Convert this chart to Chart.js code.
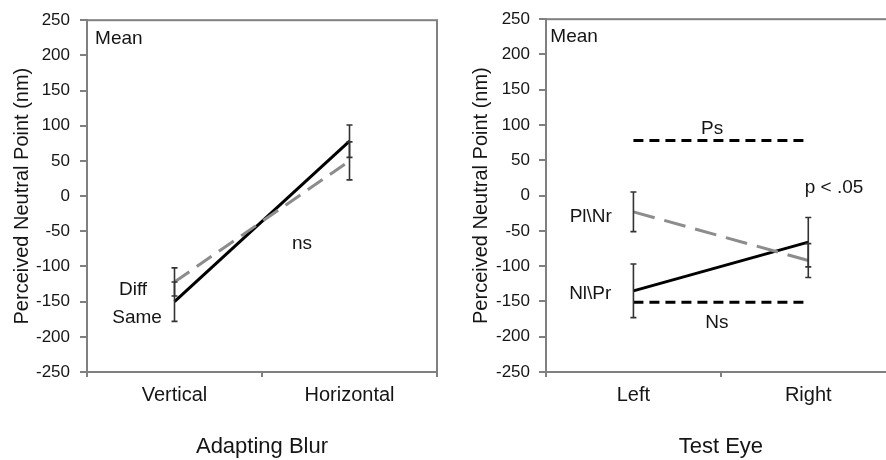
<!DOCTYPE html>
<html>
<head>
<meta charset="utf-8">
<script src="https://cdn.jsdelivr.net/npm/chart.js@4.4.1/dist/chart.umd.min.js"></script>
<style>
  body { margin: 0; background: #fff; overflow: hidden; width: 886px; height: 460px; position: relative; }
  canvas { position: absolute; top: 0; }
  #blur { left: 0; }
  #eye { left: 440px; }
</style>
</head>
<body>
<canvas id="blur" width="440" height="460"></canvas>
<canvas id="eye" width="470" height="460"></canvas>
<script>
// left panel: adapting blur
const blurLabels = ['Vertical', 'Horizontal'];
const blurSame = [-150, 78];
const blurSameErr = [28, 23];
const blurDiff = [-122, 50];
const blurDiffErr = [20, 27];

// right panel: test eye
const eyeLabels = ['Left', 'Right'];
const eyeNlPr = [-135, -66];
const eyeNlPrErr = [38, 35];
const eyePlNr = [-23, -92];
const eyePlNrErr = [28, 24];
const eyePs = [78, 78];
const eyeNs = [-151, -151];

const yMin = -250, yMax = 250, yStep = 50;

// text notes: [text, category position, value, align]
const blurNotes = [
    ['Mean', -0.454, 216, 'left'],
    ['Diff', -0.237, -141, 'center'],
    ['Same', -0.214, -181, 'center'],
    ['ns', 0.729, -75, 'center']
];
const eyeNotes = [
    ['Mean', -0.475, 217, 'left'],
    ['Ps', 0.45, 87, 'center'],
    ['p < .05', 1.147, 4, 'center'],
    ['Pl\\Nr', -0.244, -38, 'center'],
    ['Nl\\Pr', -0.247, -147, 'center'],
    ['Ns', 0.477, -188, 'center']
];

const axisGray = '#808080';
const ink = '#151515';
Chart.defaults.font.family = "'Liberation Sans', Arial, sans-serif";
Chart.defaults.color = ink;

const frame = {
    id: 'frame',
    beforeDatasetsDraw(chart) {
        const { ctx, chartArea: a } = chart;
        ctx.save();
        ctx.strokeStyle = axisGray;
        ctx.lineWidth = 2;
        ctx.strokeRect(a.left, a.top, a.right - a.left, a.bottom - a.top);
        ctx.restore();
    }
};

const errorBars = {
    id: 'errorBars',
    afterDatasetsDraw(chart) {
        const { ctx, scales: { x, y } } = chart;
        ctx.save();
        ctx.strokeStyle = '#333';
        ctx.lineWidth = 1.6;
        chart.data.datasets.forEach(ds => {
            if (!ds.errors) return;
            ds.data.forEach((v, i) => {
                const px = x.getPixelForValue(i);
                const top = y.getPixelForValue(v + ds.errors[i]);
                const bot = y.getPixelForValue(v - ds.errors[i]);
                ctx.beginPath();
                ctx.moveTo(px, top); ctx.lineTo(px, bot);
                ctx.moveTo(px - 3, top); ctx.lineTo(px + 3, top);
                ctx.moveTo(px - 3, bot); ctx.lineTo(px + 3, bot);
                ctx.stroke();
            });
        });
        ctx.restore();
    }
};

const notes = {
    id: 'notes',
    afterDraw(chart, args, opts) {
        const { ctx, scales: { x, y } } = chart;
        ctx.save();
        ctx.fillStyle = ink;
        ctx.font = "19px 'Liberation Sans', Arial, sans-serif";
        ctx.textBaseline = 'alphabetic';
        opts.items.forEach(([text, cx, cy, align]) => {
            ctx.textAlign = align;
            ctx.fillText(text, x.getPixelForValue(cx), y.getPixelForValue(cy));
        });
        ctx.restore();
    }
};

function makeChart(id, labels, datasets, noteItems, xTitle, yWidth, yTickPad, yTitlePad, padRight) {
    return new Chart(document.getElementById(id), {
        type: 'line',
        data: { labels, datasets },
        plugins: [frame, errorBars, notes],
        options: {
            responsive: false,
            animation: false,
            layout: { padding: { top: 17.5, right: padRight, bottom: 0, left: 0 } },
            elements: { point: { radius: 0 }, line: { tension: 0, borderCapStyle: 'butt' } },
            plugins: {
                legend: { display: false },
                tooltip: { enabled: false },
                notes: { items: noteItems }
            },
            scales: {
                x: {
                    type: 'category',
                    offset: true,
                    grid: { display: true, offset: true, drawOnChartArea: false, tickLength: 5, color: axisGray, lineWidth: 2 },
                    border: { color: axisGray, width: 2 },
                    ticks: { font: { size: 20 }, padding: 6, color: ink },
                    title: { display: true, text: xTitle, font: { size: 22 }, padding: { top: 0, bottom: 0 }, color: ink },
                    afterFit(s) { s.height = 88; }
                },
                y: {
                    min: yMin,
                    max: yMax,
                    ticks: { stepSize: yStep, font: { size: 17 }, padding: yTickPad, color: ink },
                    grid: { display: true, drawOnChartArea: false, tickLength: 7, color: axisGray, lineWidth: 2 },
                    border: { color: axisGray, width: 2 },
                    title: { display: true, text: 'Perceived Neutral Point (nm)', font: { size: 20 }, padding: { top: yTitlePad, bottom: 0 }, color: ink },
                    afterFit(s) { s.width = yWidth; }
                }
            }
        }
    });
}

makeChart('blur', blurLabels, [
    { label: 'Diff', data: blurDiff, errors: blurDiffErr, borderColor: '#8c8c8c', borderWidth: 3, borderDash: [18, 9] },
    { label: 'Same', data: blurSame, errors: blurSameErr, borderColor: '#000', borderWidth: 3 }
], blurNotes, 'Adapting Blur', 87, 10, 10, 3);

makeChart('eye', eyeLabels, [
    { label: 'Ps', data: eyePs, borderColor: '#000', borderWidth: 3, borderDash: [10, 6] },
    { label: 'Ns', data: eyeNs, borderColor: '#000', borderWidth: 3, borderDash: [10, 6] },
    { label: 'Pl\\Nr', data: eyePlNr, errors: eyePlNrErr, borderColor: '#8c8c8c', borderWidth: 3, borderDash: [22, 10] },
    { label: 'Nl\\Pr', data: eyeNlPr, errors: eyeNlPrErr, borderColor: '#000', borderWidth: 3 }
], eyeNotes, 'Test Eye', 106, 9, 29, 14.3);
</script>
</body>
</html>
